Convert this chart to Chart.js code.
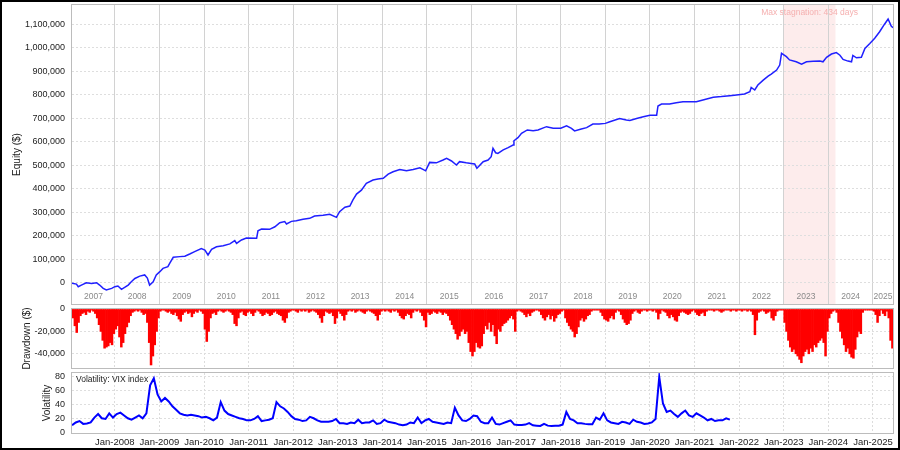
<!DOCTYPE html>
<html>
<head>
<meta charset="utf-8">
<script src="https://cdn.jsdelivr.net/npm/chart.js@4.4.1/dist/chart.umd.min.js"></script>
<style>
  html, body { margin: 0; padding: 0; background: #fff; }
  #page { position: relative; width: 900px; height: 450px; overflow: hidden; background: #fff; }
  .panel { position: absolute; left: 0; width: 900px; }
  #frame { position: absolute; left: 0; top: 0; width: 900px; height: 450px; box-sizing: border-box; border: 2px solid #000; pointer-events: none; }
</style>
</head>
<body>
<div id="page">
  <div class="panel" style="top:0;height:310px"><canvas id="equityChart"></canvas></div>
  <div class="panel" style="top:305px;height:68px"><canvas id="drawdownChart"></canvas></div>
  <div class="panel" style="top:368px;height:82px"><canvas id="vixChart"></canvas></div>
  <div id="frame"></div>
</div>
<script>

/* data */

// equity curve: decimal year and value in $ thousands
var equityYears = [2007.04, 2007.14, 2007.18, 2007.25, 2007.36, 2007.48, 2007.59, 2007.66, 2007.74, 2007.81,
  2007.93, 2008.00, 2008.07, 2008.15, 2008.22, 2008.30, 2008.37, 2008.45, 2008.56, 2008.67,
  2008.73, 2008.78, 2008.86, 2008.93, 2009.01, 2009.08, 2009.19, 2009.23, 2009.31, 2009.46,
  2009.57, 2009.68, 2009.79, 2009.94, 2010.02, 2010.09, 2010.17, 2010.28, 2010.43, 2010.58,
  2010.69, 2010.73, 2010.84, 2010.95, 2011.18, 2011.21, 2011.29, 2011.47, 2011.59, 2011.70,
  2011.81, 2011.85, 2011.96, 2012.07, 2012.22, 2012.37, 2012.48, 2012.67, 2012.82, 2012.97,
  2013.04, 2013.16, 2013.27, 2013.34, 2013.42, 2013.53, 2013.64, 2013.79, 2013.90, 2014.02,
  2014.13, 2014.24, 2014.39, 2014.54, 2014.69, 2014.84, 2014.91, 2014.97, 2015.06, 2015.21,
  2015.36, 2015.44, 2015.55, 2015.66, 2015.73, 2015.88, 2015.99, 2016.07, 2016.12, 2016.26,
  2016.37, 2016.44, 2016.48, 2016.54, 2016.59, 2016.71, 2016.82, 2016.93, 2016.95, 2017.04,
  2017.12, 2017.25, 2017.38, 2017.49, 2017.68, 2017.83, 2018.00, 2018.13, 2018.24, 2018.31,
  2018.46, 2018.58, 2018.72, 2018.86, 2019.00, 2019.10, 2019.32, 2019.47, 2019.55, 2019.70,
  2019.85, 2020.00, 2020.15, 2020.18, 2020.26, 2020.44, 2020.59, 2020.74, 2021.04, 2021.23,
  2021.42, 2021.60, 2021.79, 2021.94, 2022.12, 2022.24, 2022.27, 2022.35, 2022.42, 2022.54,
  2022.65, 2022.72, 2022.84, 2022.91, 2022.95, 2023.06, 2023.13, 2023.28, 2023.40, 2023.51,
  2023.66, 2023.81, 2023.88, 2023.96, 2024.07, 2024.18, 2024.26, 2024.33, 2024.44, 2024.52,
  2024.55, 2024.63, 2024.74, 2024.82, 2024.93, 2025.04, 2025.15, 2025.26, 2025.34, 2025.41,
  2025.45];
var equityK = [-2, -6, -17, -10, 0, -3, 0, -10, -24, -31,
  -24, -17, -14, -28, -20, -10, 4, 18, 28, 33,
  20, -10, 4, 33, 47, 61, 68, 82, 108, 111,
  113, 122, 132, 145, 139, 118, 142, 153, 157, 165,
  179, 167, 182, 190, 189, 221, 228, 227, 238, 255,
  260, 250, 261, 264, 270, 274, 284, 287, 291, 278,
  302, 321, 326, 352, 377, 394, 423, 437, 441, 444,
  462, 472, 482, 476, 482, 489, 482, 476, 512, 510,
  522, 529, 518, 501, 515, 510, 507, 505, 487, 515,
  522, 536, 572, 553, 550, 565, 575, 586, 604, 617,
  636, 650, 647, 650, 664, 657, 657, 668, 657, 646,
  654, 660, 675, 675, 678, 685, 699, 692, 690, 699,
  706, 713, 713, 752, 760, 760, 766, 770, 770, 780,
  789, 792, 796, 799, 803, 813, 831, 820, 841, 862,
  879, 888, 905, 926, 976, 962, 948, 940, 930, 940,
  942, 943, 940, 959, 973, 979, 968, 950, 943, 940,
  967, 957, 959, 997, 1018, 1040, 1068, 1100, 1122, 1092,
  1085];

// drawdown in $ thousands, two readings a month from Jan 2007
var drawdownK = [
  -3, -8, -15, -21, -12, -6, -4, -3, -5, -2, -3, -1, -2, -4, -8, -14, -20, -28, -35, -34, -33, -30, -32, -22,      // 2007
  -18, -15, -25, -34, -30, -22, -16, -12, -6, -3, -2, -1, -2, -1, -3, -5, -4, -12, -30, -50, -42, -32, -20, -8,  // 2008
  -2, -1, -1, -2, -3, -2, -4, -5, -3, -6, -9, -11, -5, -3, -2, -4, -3, -7, -4, -2, -3, -1, -2, -4,               // 2009
  -18, -29, -20, -8, -4, -3, -5, -2, -1, -2, -3, -2, -1, -2, -3, -5, -13, -15, -8, -3, -2, -5, -6, -3,           // 2010
  -2, -4, -6, -3, -1, -2, -4, -6, -5, -3, -4, -6, -5, -3, -2, -4, -5, -6, -10, -12, -8, -3, -2, -1,              // 2011
  -1, -2, -3, -1, -2, -1, -2, -1, -3, -2, -1, -2, -3, -5, -8, -12, -6, -2, -3, -4, -3, -6, -13, -8,              // 2012
  -2, -4, -6, -10, -5, -2, -1, -2, -1, -3, -2, -1, -2, -3, -4, -2, -1, -2, -3, -4, -6, -10, -5, -2,              // 2013
  -1, -2, -1, -2, -3, -1, -2, -1, -3, -6, -8, -9, -6, -4, -5, -8, -3, -1, -2, -1, -3, -6, -10, -16,              // 2014
  -3, -5, -4, -2, -3, -4, -2, -3, -5, -3, -4, -6, -10, -14, -18, -22, -27, -24, -20, -18, -22, -20, -30, -38,    // 2015
  -42, -38, -30, -34, -35, -33, -22, -15, -18, -12, -20, -14, -24, -31, -18, -20, -15, -13, -12, -10, -8, -6, -9, -20, // 2016
  -2, -1, -2, -3, -5, -7, -4, -6, -3, -2, -1, -1, -2, -5, -8, -10, -7, -5, -9, -6, -11, -8, -5, -4,              // 2017
  -2, -1, -8, -12, -15, -18, -20, -25, -22, -16, -10, -8, -11, -9, -6, -5, -2, -1, -1, -1, -1, -3, -6, -9,       // 2018
  -10, -11, -8, -6, -9, -3, -1, -2, -5, -9, -12, -14, -13, -10, -4, -2, -1, -3, -4, -2, -1, -1, -2, -1,          // 2019
  -1, -2, -1, -3, -9, -4, -1, -2, -3, -6, -8, -5, -7, -10, -11, -6, -3, -2, -3, -4, -5, -4, -2, -1,              // 2020
  -3, -5, -6, -4, -3, -6, -2, -1, -1, -1, -2, -1, -1, -2, -3, -2, -1, -1, -1, -2, -1, -1, -2, -1,                // 2021
  -1, -2, -1, -1, -2, -1, -2, -5, -23, -10, -3, -2, -1, -2, -4, -3, -2, -8, -10, -6, -2, -1, -1, -1,             // 2022
  -12, -20, -28, -34, -38, -36, -40, -42, -45, -48, -42, -38, -36, -40, -35, -38, -32, -34, -30, -28, -26, -30, -42, -20, // 2023
  -8, -4, -2, -1, -3, -12, -20, -26, -32, -38, -35, -40, -43, -44, -36, -25, -20, -22, -3, -1, -1, -1, -1, -1,   // 2024
  -2, -5, -12, -6, -1, -4, -6, -2, -8, -28, -35                                                                  // 2025
];

// VIX index, one reading a month from Jan 2007
var vixValues = [
  11, 15, 17, 13, 13.5, 15, 22, 27, 21, 20, 28, 22,        // 2007
  27, 29, 25, 21, 19, 22, 25, 21, 28, 68, 78, 55,          // 2008
  45, 50, 45, 38, 33, 28, 26, 25, 26, 25, 24, 22,          // 2009
  23, 21, 18, 22, 44, 32, 27, 25, 23, 21, 20, 18,          // 2010
  18, 20, 24, 17, 18, 19, 21, 44, 38, 35, 30, 24,          // 2011
  20, 19, 17, 18, 23, 21, 18, 16, 16, 16, 17, 20,          // 2012
  14, 14, 13, 15, 14, 19, 14, 15, 15, 18, 13, 14,          // 2013
  19, 16, 15, 14, 12, 11, 12, 15, 14, 22, 14, 18,          // 2014
  20, 16, 15, 14, 13, 15, 14, 36, 25, 18, 17, 20,          // 2015
  25, 24, 16, 14, 14, 22, 13, 12, 14, 16, 18, 12,          // 2016
  11.5, 11.5, 12, 14, 11, 10.5, 10, 13, 10.5, 10, 10.5, 10.5, // 2017
  12, 30, 20, 18, 14, 14, 13, 12.5, 12.5, 22, 19, 28,      // 2018
  18, 15, 14, 13, 16, 15, 13, 19, 16, 15, 13, 13.5,        // 2019
  15, 20, 80, 42, 30, 32, 27, 23, 28, 32, 25, 23,          // 2020
  28, 25, 22, 18, 20, 17, 18, 18, 21, 19                   // 2021
];

var yearLabels = ['2007', '2008', '2009', '2010', '2011', '2012', '2013', '2014', '2015', '2016',
  '2017', '2018', '2019', '2020', '2021', '2022', '2023', '2024', '2025'];
var janTicks = [2008, 2009, 2010, 2011, 2012, 2013, 2014, 2015, 2016, 2017, 2018, 2019, 2020, 2021, 2022, 2023, 2024, 2025];
var equityTicks = [0, 100000, 200000, 300000, 400000, 500000, 600000, 700000, 800000, 900000, 1000000, 1100000];
var drawdownTicks = [-40000, -20000, 0];
var vixTicks = [0, 20, 40, 60, 80];
var stagnationSpan = [2023.0, 2024.16];
var stagnationText = 'Max stagnation: 434 days';


/* common settings */

var X_MIN = 2007.04;
var X_MAX = 2025.45;
var FONTE = '"Liberation Sans", Arial, Helvetica, sans-serif';

Chart.defaults.font.family = FONTE;
Chart.defaults.font.size = 9;
Chart.defaults.color = '#222';
Chart.defaults.animation = false;
Chart.defaults.plugins.legend.display = false;
Chart.defaults.plugins.tooltip.enabled = false;

function formata(v) {
  return Number(v).toLocaleString('en-US');
}

function eixoX(dashed, showLabels) {
  return {
    type: 'linear',
    min: X_MIN,
    max: X_MAX,
    offset: false,
    grid: { color: dashed ? '#dcdcdc' : '#d2d2d2', drawTicks: false, offset: false },
    border: { display: false, dash: dashed ? [2, 2] : [] },
    ticks: {
      display: showLabels,
      padding: 4,
      maxRotation: 0,
      autoSkip: false,
      font: { size: 9.5 },
      callback: function (v) { return 'Jan-' + v; }
    },
    afterBuildTicks: function (s) { s.ticks = janTicks.map(function (v) { return { value: v }; }); },
    afterFit: function (s) {
      s.height = showLabels ? 17 : 0;
      s.paddingLeft = 0;
      s.paddingRight = 0;
    }
  };
}

function eixoY(titulo, min, max, marcas, largura) {
  return {
    min: min,
    max: max,
    title: { display: true, text: titulo, padding: 0, font: { size: 10 } },
    grid: { color: '#dedede', drawTicks: false },
    border: { display: false, dash: [2, 2] },
    ticks: { padding: 7, autoSkip: false, callback: formata },
    afterBuildTicks: function (s) { s.ticks = marcas.map(function (v) { return { value: v }; }); },
    afterFit: function (s) {
      s.width = largura;
      s.paddingTop = 0;
      s.paddingBottom = 0;
    }
  };
}

// gray frame around every plot area
var moldura = {
  id: 'moldura',
  afterDraw: function (chart) {
    var a = chart.chartArea, ctx = chart.ctx;
    ctx.save();
    ctx.strokeStyle = '#bcbcbc';
    ctx.lineWidth = 1;
    ctx.strokeRect(a.left - 0.5, a.top - 0.5, a.right - a.left + 1, a.bottom - a.top + 1);
    ctx.restore();
  }
};

// stagnation band and the year names inside the equity panel
var faixa = {
  id: 'faixa',
  beforeDraw: function (chart) {
    var a = chart.chartArea, x = chart.scales.x, ctx = chart.ctx;
    var x0 = x.getPixelForValue(stagnationSpan[0]);
    var x1 = x.getPixelForValue(stagnationSpan[1]);
    ctx.save();
    ctx.fillStyle = '#fdecec';
    ctx.fillRect(x0, a.top, x1 - x0, a.bottom - a.top);
    ctx.fillStyle = '#f5b0b0';
    ctx.font = '8.5px ' + FONTE;
    ctx.textAlign = 'center';
    ctx.textBaseline = 'middle';
    ctx.fillText(stagnationText, (x0 + x1) / 2, a.top + 8);
    ctx.restore();
  },
  beforeDatasetsDraw: function (chart) {
    var a = chart.chartArea, x = chart.scales.x, ctx = chart.ctx;
    ctx.save();
    ctx.fillStyle = '#8a8a8a';
    ctx.font = '8.5px ' + FONTE;
    ctx.textAlign = 'center';
    ctx.textBaseline = 'middle';
    yearLabels.forEach(function (ano) {
      var de = Math.max(Number(ano), X_MIN);
      var ate = Math.min(Number(ano) + 1, X_MAX);
      ctx.fillText(ano, (x.getPixelForValue(de) + x.getPixelForValue(ate)) / 2, a.bottom - 7);
    });
    ctx.restore();
  }
};

var rotuloVix = {
  id: 'rotuloVix',
  afterDraw: function (chart) {
    var a = chart.chartArea, ctx = chart.ctx;
    ctx.save();
    ctx.fillStyle = '#222';
    ctx.font = '8.5px ' + FONTE;
    ctx.textBaseline = 'middle';
    ctx.fillText('Volatility: VIX index', a.left + 4, a.top + 7);
    ctx.restore();
  }
};


/* equity panel */

new Chart(document.getElementById('equityChart'), {
  type: 'line',
  data: {
    datasets: [{
      data: equityYears.map(function (ano, i) { return { x: ano, y: equityK[i] * 1000 }; }),
      borderColor: '#2020ff',
      borderWidth: 1.5,
      pointRadius: 0,
      tension: 0
    }]
  },
  options: {
    responsive: true,
    maintainAspectRatio: false,
    layout: { padding: { left: 11, top: 5, right: 7, bottom: 6 } },
    scales: {
      x: eixoX(false, false),
      y: eixoY('Equity ($)', -90600, 1181700, equityTicks, 61)
    }
  },
  plugins: [faixa, moldura]
});


/* drawdown panel */

new Chart(document.getElementById('drawdownChart'), {
  type: 'bar',
  data: {
    datasets: [{
      data: drawdownK.map(function (v, i) { return { x: 2007 + (i + 0.5) / 24, y: v * 1000 }; }),
      backgroundColor: '#ff0000',
      borderWidth: 0,
      barPercentage: 1,
      categoryPercentage: 1
    }]
  },
  options: {
    responsive: true,
    maintainAspectRatio: false,
    layout: { padding: { left: 21, top: 4, right: 7, bottom: 5 } },
    scales: {
      x: eixoX(true, false),
      y: eixoY('Drawdown ($)', -52700, 0, drawdownTicks, 51)
    }
  },
  plugins: [moldura]
});


/* volatility panel */

new Chart(document.getElementById('vixChart'), {
  type: 'line',
  data: {
    datasets: [{
      data: vixValues.map(function (v, i) { return { x: 2007 + (i + 0.5) / 12, y: v }; }),
      borderColor: '#0000ff',
      borderWidth: 2,
      pointRadius: 0,
      tension: 0
    }]
  },
  options: {
    responsive: true,
    maintainAspectRatio: false,
    layout: { padding: { left: 41, top: 5, right: 7, bottom: 0 } },
    scales: {
      x: eixoX(true, true),
      y: eixoY('Volatility', 0, 85.5, vixTicks, 31)
    }
  },
  plugins: [rotuloVix, moldura]
});

</script>
</body>
</html>
